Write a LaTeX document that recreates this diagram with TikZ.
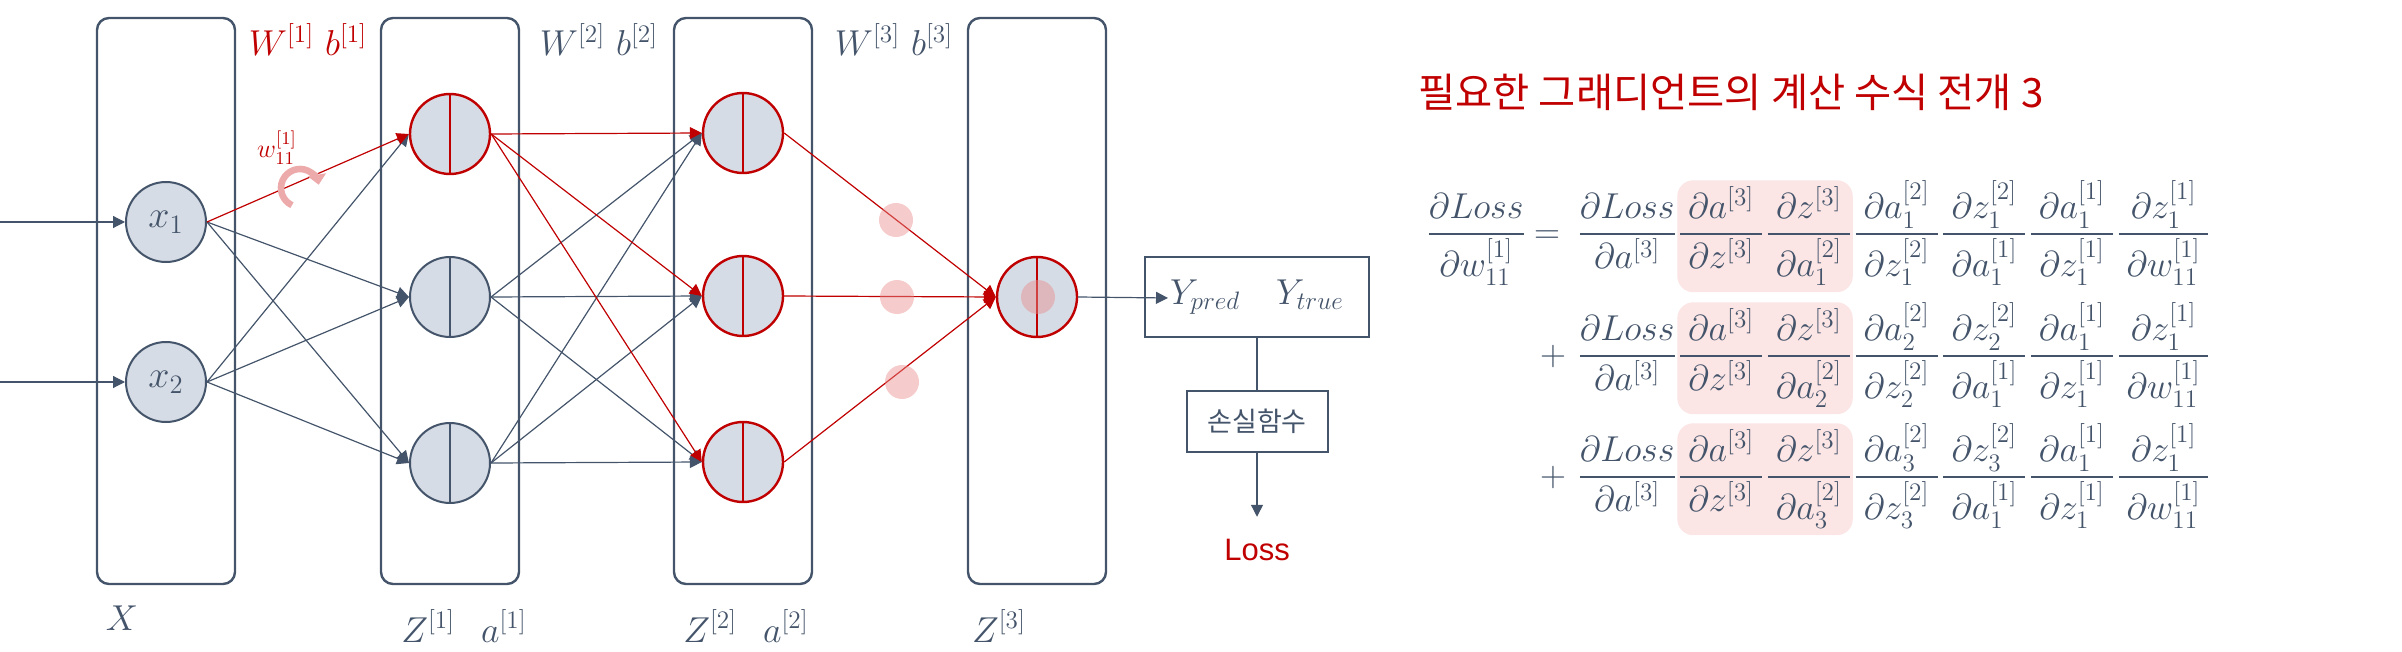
\RequirePackage{fix-cm}
\documentclass[tikz,border=0pt]{standalone}
\usepackage{amsmath}
\usepackage{fontspec}
\usetikzlibrary{arrows.meta, positioning, fit, backgrounds}
\newfontfamily\kofont{Noto Sans CJK KR}
\newfontfamily\lossfont{Liberation Sans}
\definecolor{slate}{RGB}{68,84,106}
\definecolor{cellfill}{RGB}{214,220,229}
\definecolor{darkred}{RGB}{192,0,0}
\definecolor{blush}{RGB}{251,229,229}
\definecolor{rosedot}{RGB}{232,140,140}
\definecolor{spinpink}{RGB}{236,170,170}
\newcommand{\pd}[2]{\frac{\partial #1}{\partial #2}}
\newcommand{\pdp}[2]{\frac{\mkern4mu\partial #1\mkern4mu}{\mkern4mu\partial #2\mkern4mu}}
\tikzset{layerbox/.style={draw=slate, line width=1.2pt, rounded corners=6pt, minimum width=69pt, minimum height=283pt, inner sep=0pt},
    neuron/.style={circle, draw=slate, fill=cellfill, line width=1pt, minimum size=40pt, inner sep=0pt, text=slate, font=\fontsize{19}{21}\selectfont},
    halved/.style={path picture={\draw[#1, line width=0.6pt] (path picture bounding box.north) -- (path picture bounding box.south);}},
    hotneuron/.style={neuron, draw=darkred, line width=1.2pt, halved=darkred}}
\begin{document}
\begin{tikzpicture}[
        x=0.5pt, y=-0.5pt,
        wire/.style={draw=slate, line width=0.6pt, -{Triangle[length=6pt, width=6pt]}},
        hotwire/.style={wire, draw=darkred},
        mathlabel/.style={text=slate, font=\fontsize{18}{20}\selectfont, inner sep=0pt},
        eqterm/.style={text=slate, font=\fontsize{18}{22}\selectfont, inner sep=0pt},
        hilite/.style={fill=blush, rounded corners=8pt, inner xsep=0pt, inner ysep=3pt},
        plainbox/.style={draw=slate, line width=1pt}
    ]
        \useasboundingbox (0,0) rectangle (2402,652);
        % Layers
        \foreach \n/\x in {in/166, one/450, two/743, out/1037} {
            \node[layerbox] (layer\n) at (\x,301) {};
        }
        % Neurons
        \node[neuron] (x1) at (166,222) {$x_1$};
        \node[neuron] (x2) at (166,382) {$x_2$};
        \node[hotneuron] (a1) at (450,134) {};
        \node[neuron, halved=slate] (a2) at (450,297) {};
        \node[neuron, halved=slate] (a3) at (450,463) {};
        \foreach \i/\y in {1/133, 2/296, 3/462} {
            \node[hotneuron] (b\i) at (743,\y) {};
        }
        \node[hotneuron] (c1) at (1037,297) {};
        % Connections
        \coordinate (feed1) at (0,222);
        \coordinate (feed2) at (0,382);
        \draw[wire] (feed1) -- (x1.west);
        \draw[wire] (feed2) -- (x2.west);
        \foreach \s/\t in {1/2, 1/3, 2/1, 2/2, 2/3} {
            \draw[wire] (x\s.east) -- (a\t.west);
        }
        \draw[hotwire] (x1.east) -- (a1.west);
        \foreach \s in {2,3} {
            \foreach \t in {1,2,3} {
                \draw[wire] (a\s.east) -- (b\t.west);
            }
        }
        \foreach \t in {1,2,3} {
            \draw[hotwire] (a1.east) -- (b\t.west);
            \draw[hotwire] (b\t.east) -- (c1.west);
        }
        % Highlight dots
        \foreach \x/\y in {896/220, 897/297, 902/382, 1038/297} {
            \fill[rosedot, opacity=0.45] (\x,\y) circle (17);
        }
        \coordinate (spin) at (300,188);
        \draw[spinpink, line width=3.3pt, -{Triangle[length=5pt, width=9pt]}] (spin) ++(245:9.5pt) arc[start angle=245, end angle=10, radius=9.5pt];
        % Labels
        \node[mathlabel, text=darkred, anchor=base] (wone) at (308,56) {$W^{[1]}\ b^{[1]}$};
        \node[mathlabel, anchor=base] (wtwo) at (599,56) {$W^{[2]}\ b^{[2]}$};
        \node[mathlabel, anchor=base] (wthree) at (894,56) {$W^{[3]}\ b^{[3]}$};
        \node[mathlabel, text=darkred, font=\fontsize{13}{15}\selectfont, anchor=base] (wsingle) at (277,158) {$w_{11}^{[1]}$};
        \node[mathlabel, anchor=base] (xname) at (122,630) {$X$};
        \node[mathlabel, anchor=base] (zone) at (464,642) {$Z^{[1]}\hspace{13pt}a^{[1]}$};
        \node[mathlabel, anchor=base] (ztwo) at (746,642) {$Z^{[2]}\hspace{13pt}a^{[2]}$};
        \node[mathlabel, anchor=base] (zthree) at (999,642) {$Z^{[3]}$};
        % Loss
        \coordinate (predtip) at (1168,298);
        \node[plainbox, mathlabel, minimum width=112pt, minimum height=40pt] (predbox) at (1257,297) {$Y_{pred}\quad Y_{true}$};
        \draw[wire] (c1.east) -- (predtip);
        \node[plainbox, minimum width=70.5pt, minimum height=30.5pt, text=slate, font=\kofont\fontsize{13.5}{15}\selectfont] (lossbox) at (1257,421) {손실함수};
        \draw[slate, line width=0.6pt] (predbox) -- (lossbox);
        \node[text=darkred, font=\lossfont\fontsize{15.5}{18}\selectfont, inner sep=0pt] (loss) at (1257,550) {Loss};
        \draw[wire, shorten >=11pt] (lossbox) -- (loss);
        % Expansion
        \node[anchor=west, text=darkred, font=\kofont\fontsize{20.2}{24}\selectfont, inner sep=0pt] (title) at (1418,92) {필요한 그래디언트의 계산 수식 전개 3};
        \node[eqterm, anchor=base west] (lhs) at (1426,243) {$\displaystyle\pd{Loss}{w_{11}^{[1]}}$};
        \node[eqterm, anchor=base] (equal) at (1547,243) {$=$};
        \foreach \k/\yy in {1/243, 2/365, 3/486} {
            \ifnum\k>1 \node[eqterm, anchor=base] (plus\k) at (1553,\yy) {$+$}; \fi
            \node[eqterm, anchor=base west] (r\k-1) at (1577,\yy) {$\displaystyle\pd{Loss}{a^{[3]}}$};
            \node[eqterm, anchor=base west] (r\k-2) at (r\k-1.base east) {$\displaystyle\pdp{a^{[3]}}{z^{[3]}}$};
            \node[eqterm, anchor=base west] (r\k-3) at (r\k-2.base east) {$\displaystyle\pdp{z^{[3]}}{a_{\k}^{[2]}}$};
            \node[eqterm, anchor=base west] (r\k-4) at (r\k-3.base east) {$\displaystyle\pdp{a_{\k}^{[2]}}{z_{\k}^{[2]}}$};
            \node[eqterm, anchor=base west] (r\k-5) at (r\k-4.base east) {$\displaystyle\pdp{z_{\k}^{[2]}}{a_1^{[1]}}$};
            \node[eqterm, anchor=base west] (r\k-6) at (r\k-5.base east) {$\displaystyle\pdp{a_1^{[1]}}{z_1^{[1]}}$};
            \node[eqterm, anchor=base west] (r\k-7) at (r\k-6.base east) {$\displaystyle\pdp{z_1^{[1]}}{w_{11}^{[1]}}$};
            \begin{scope}[on background layer]
                \node[hilite, fit=(r\k-2)(r\k-3)] (mark\k) {};
            \end{scope}
        }
    \end{tikzpicture}
\end{document}
